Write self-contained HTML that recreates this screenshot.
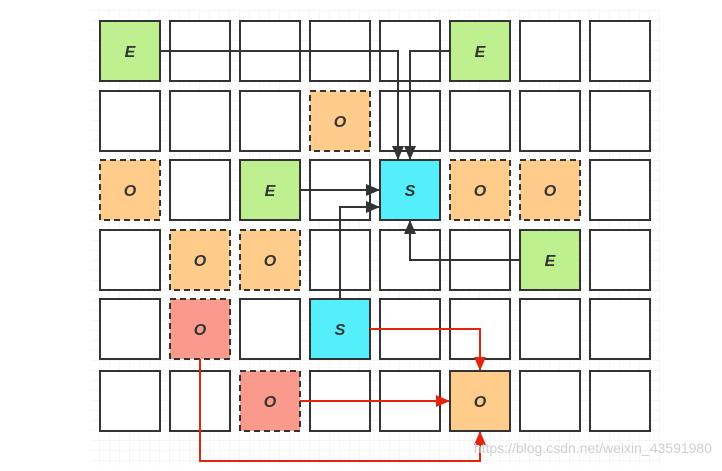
<!DOCTYPE html><html><head><style>body{margin:0;background:#fff}</style></head><body>
<svg width="722" height="466" xmlns="http://www.w3.org/2000/svg">
<defs>
<pattern id="g" width="10" height="10" patternUnits="userSpaceOnUse" x="0" y="1"><path d="M10 0V10M0 10H10" stroke="#eeeeee" stroke-width="1" fill="none"/></pattern>
<marker id="ab" markerWidth="14" markerHeight="12" refX="13" refY="6" orient="auto" markerUnits="userSpaceOnUse"><path d="M0,0L14,6L0,12z" fill="#333"/></marker>
<marker id="ar" markerWidth="14" markerHeight="12" refX="13" refY="6" orient="auto" markerUnits="userSpaceOnUse"><path d="M0,0L14,6L0,12z" fill="#e5250b"/></marker>
</defs>
<rect x="90" y="10" width="570" height="456" fill="url(#g)"/>
<g stroke="#333" stroke-width="2" font-family="Liberation Sans, sans-serif" font-weight="bold" font-style="italic" font-size="16" text-anchor="middle">
<g fill="#fff">
<rect x="170" y="21" width="60" height="60"/><rect x="240" y="21" width="60" height="60"/><rect x="310" y="21" width="60" height="60"/><rect x="380" y="21" width="60" height="60"/><rect x="520" y="21" width="60" height="60"/><rect x="590" y="21" width="60" height="60"/>
<rect x="100" y="91" width="60" height="60"/><rect x="170" y="91" width="60" height="60"/><rect x="240" y="91" width="60" height="60"/><rect x="380" y="91" width="60" height="60"/><rect x="450" y="91" width="60" height="60"/><rect x="520" y="91" width="60" height="60"/><rect x="590" y="91" width="60" height="60"/>
<rect x="170" y="160" width="60" height="60"/><rect x="310" y="160" width="60" height="60"/><rect x="590" y="160" width="60" height="60"/>
<rect x="100" y="230" width="60" height="60"/><rect x="310" y="230" width="60" height="60"/><rect x="380" y="230" width="60" height="60"/><rect x="450" y="230" width="60" height="60"/><rect x="590" y="230" width="60" height="60"/>
<rect x="100" y="299" width="60" height="60"/><rect x="240" y="299" width="60" height="60"/><rect x="380" y="299" width="60" height="60"/><rect x="450" y="299" width="60" height="60"/><rect x="520" y="299" width="60" height="60"/><rect x="590" y="299" width="60" height="60"/>
<rect x="100" y="371" width="60" height="60"/><rect x="170" y="371" width="60" height="60"/><rect x="310" y="371" width="60" height="60"/><rect x="380" y="371" width="60" height="60"/><rect x="520" y="371" width="60" height="60"/><rect x="590" y="371" width="60" height="60"/>
</g>
<g fill="#bef08f"><rect x="100" y="21" width="60" height="60"/><rect x="450" y="21" width="60" height="60"/><rect x="240" y="160" width="60" height="60"/><rect x="520" y="230" width="60" height="60"/></g>
<g fill="#55effc"><rect x="380" y="160" width="60" height="60"/><rect x="310" y="299" width="60" height="60"/></g>
<g fill="#ffcc8c" stroke-dasharray="6,4"><rect x="310" y="91" width="60" height="60"/><rect x="100" y="160" width="60" height="60"/><rect x="450" y="160" width="60" height="60"/><rect x="520" y="160" width="60" height="60"/><rect x="170" y="230" width="60" height="60"/><rect x="240" y="230" width="60" height="60"/></g>
<g fill="#f99a8c" stroke-dasharray="6,4"><rect x="170" y="299" width="60" height="60"/><rect x="240" y="371" width="60" height="60"/></g>
<rect x="450" y="371" width="60" height="60" fill="#ffcc8c"/>
<g fill="none">
<path d="M160 51H398V159" marker-end="url(#ab)"/>
<path d="M450 51H410V159" marker-end="url(#ab)"/>
<path d="M300 190H379" marker-end="url(#ab)"/>
<path d="M340 299V207H379" marker-end="url(#ab)"/>
<path d="M520 260H410V221" marker-end="url(#ab)"/>
</g>
<g fill="none" stroke="#e5250b">
<path d="M370 329H480V370" marker-end="url(#ar)"/>
<path d="M300 401H449" marker-end="url(#ar)"/>
<path d="M200 359V461H480V432" marker-end="url(#ar)"/>
</g>
<g fill="#333" stroke="none">
<text x="130" y="57">E</text><text x="480" y="57">E</text><text x="340" y="127">O</text>
<text x="130" y="196">O</text><text x="270" y="196">E</text><text x="410" y="196">S</text><text x="480" y="196">O</text><text x="550" y="196">O</text>
<text x="200" y="266">O</text><text x="270" y="266">O</text><text x="550" y="266">E</text>
<text x="200" y="335">O</text><text x="340" y="335">S</text>
<text x="270" y="407">O</text><text x="480" y="407">O</text>
</g>
</g>
<text x="712" y="453" text-anchor="end" font-family="Liberation Sans, sans-serif" font-size="14" fill="#cfcfcf">https://blog.csdn.net/weixin_43591980</text>
</svg>
</body></html>
